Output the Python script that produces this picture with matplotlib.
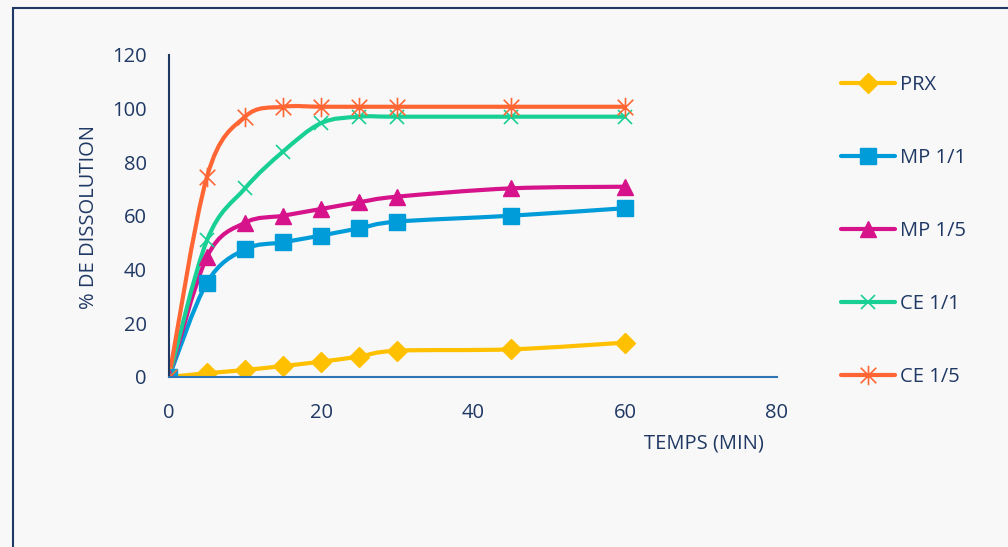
import matplotlib.pyplot as plt
from matplotlib.path import Path
from matplotlib.patches import PathPatch, Rectangle
from matplotlib.lines import Line2D

temps = [0, 5, 10, 15, 20, 25, 30, 45, 60]
prx = [0, 1.4, 2.6, 4.1, 5.7, 7.6, 9.8, 10.3, 12.8]
mp_1_1 = [0, 35.2, 47.6, 50.2, 52.7, 55.4, 57.9, 60.1, 62.9]
mp_1_5 = [0, 44.8, 57.5, 60.1, 62.6, 65.1, 67.2, 70.3, 70.9]
ce_1_1 = [0, 51.0, 70.3, 84.0, 94.6, 97.0, 97.0, 97.0, 97.0]
ce_1_5 = [0, 74.7, 97.0, 100.7, 100.7, 100.7, 100.7, 100.7, 100.7]

labels = ["PRX", "MP 1/1", "MP 1/5", "CE 1/1", "CE 1/5"]
colors = ["#ffc000", "#009cd9", "#d6138a", "#18cf94", "#ff6633"]

navy = "#1f3864"
fs = 14.5
plt.rcParams["font.family"] = ["Open Sans", "DejaVu Sans"]

# asterisk marker: vertical bar plus an x
star = Path(
    [(0, -1), (0, 1), (-0.8, -0.8), (0.8, 0.8), (-0.8, 0.8), (0.8, -0.8)],
    [Path.MOVETO, Path.LINETO] * 3,
)
markers = [
    dict(marker="D", ms=10),
    dict(marker="s", ms=11.5),
    dict(marker="^", ms=11.5),
    dict(marker="x", ms=10, mew=1.2),
    dict(marker=star, ms=14, mew=1.2),
]


def smooth_path(xs, ys):
    # cubic Bezier through every point, Catmull-Rom style tangents
    pts = list(zip(xs, ys))
    verts = [pts[0]]
    codes = [Path.MOVETO]
    n = len(pts)
    for i in range(n - 1):
        p0 = pts[max(i - 1, 0)]
        p1 = pts[i]
        p2 = pts[i + 1]
        p3 = pts[min(i + 2, n - 1)]
        c1 = (p1[0] + (p2[0] - p0[0]) / 6, p1[1] + (p2[1] - p0[1]) / 6)
        c2 = (p2[0] - (p3[0] - p1[0]) / 6, p2[1] - (p3[1] - p1[1]) / 6)
        verts += [c1, c2, p2]
        codes += [Path.CURVE4] * 3
    return Path(verts, codes)


fig = plt.figure(figsize=(10.08, 5.47), dpi=100, facecolor="#f8f8f8")
ax = fig.add_axes([0.1677, 0.3108, 0.6031, 0.5887])
ax.set_facecolor("#f8f8f8")

series = [prx, mp_1_1, mp_1_5, ce_1_1, ce_1_5]
handles = []
for vals, col, lab, mk in zip(series, colors, labels, markers):
    ax.add_patch(PathPatch(smooth_path(temps, vals), fill=False,
                           edgecolor=col, lw=3, capstyle="round"))
    ax.plot(temps, vals, ls="none", color=col, mec=col, **mk)
    handles.append(Line2D([], [], color=col, lw=3, solid_capstyle="round",
                          mec=col, label=lab, **mk))

ax.set_xlim(0, 80)
ax.set_ylim(0, 120)
ax.set_xticks(range(0, 81, 20))
ax.set_yticks(range(0, 121, 20))
ax.tick_params(length=0, labelsize=fs, colors=navy)
ax.tick_params(axis="x", pad=19)
ax.tick_params(axis="y", pad=16)
for s in ["top", "right"]:
    ax.spines[s].set_visible(False)
ax.spines["left"].set_color(navy)
ax.spines["left"].set_linewidth(1.5)
ax.spines["bottom"].set_color("#2e75b6")
ax.spines["bottom"].set_linewidth(1.5)

fig.text(0.698, 0.19, "TEMPS (MIN)", fontsize=fs, color=navy, ha="center", va="center")
fig.text(0.088, 0.604, "% DE DISSOLUTION", fontsize=fs, color=navy,
         rotation=90, ha="center", va="center")

fig.legend(handles=handles, loc="upper left", bbox_to_anchor=(0.816, 0.896),
           frameon=False, fontsize=fs, labelcolor=navy, handlelength=2.7,
           labelspacing=2.63, handletextpad=0.25, numpoints=1)

# outer frame
fig.patches.append(Rectangle((0.013, -0.1), 1.2, 1.085, transform=fig.transFigure,
                             fill=False, edgecolor=navy, lw=1.5))

fig.savefig("out.png", dpi=100, facecolor=fig.get_facecolor())
